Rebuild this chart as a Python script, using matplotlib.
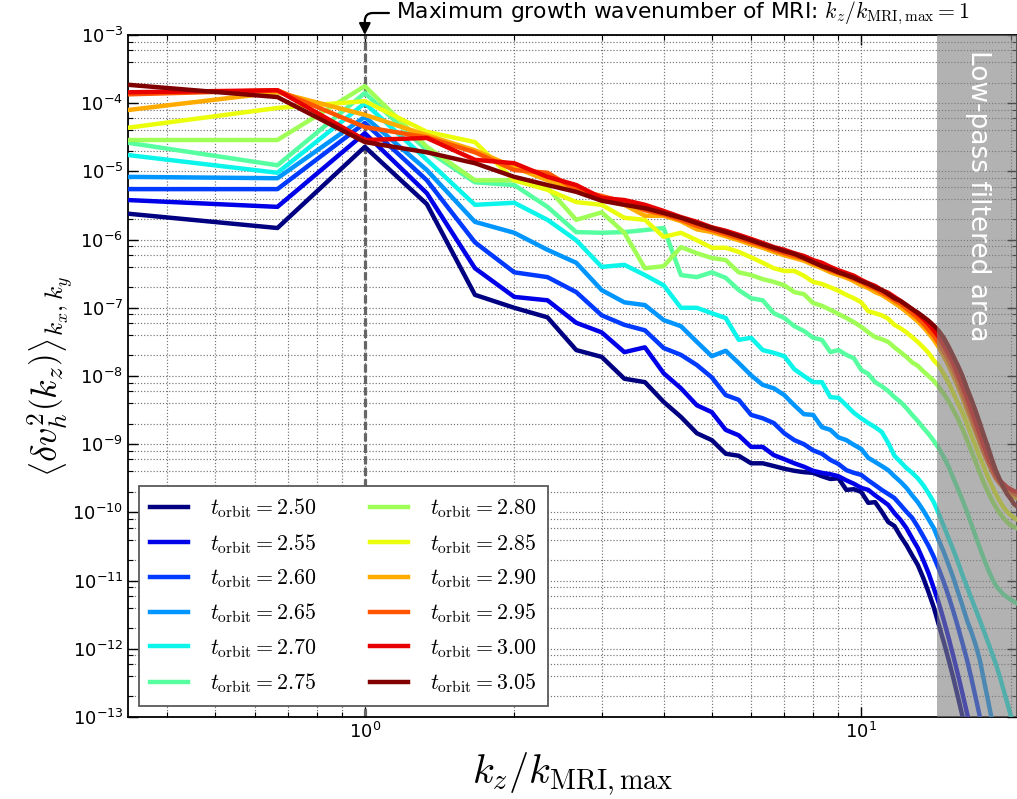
import numpy as np
import matplotlib
matplotlib.use("Agg")
import matplotlib.pyplot as plt
from matplotlib.ticker import LogLocator

plt.rcParams['mathtext.fontset'] = 'cm'
plt.rcParams['axes.unicode_minus'] = False
plt.rcParams['font.family'] = ['DejaVu Sans']

# k_z / k_MRI,max = n/3, n = 1..62
kz = np.arange(1, 63) / 3.0
times = [2.50, 2.55, 2.60, 2.65, 2.70, 2.75, 2.80, 2.85, 2.90, 2.95, 3.00, 3.05]

# log10 <dv_h^2(k_z)>
lg_250 = [-5.62, -5.83, -4.64, -5.48, -6.81, -7.00, -7.14, -7.62, -7.72, -8.04,
          -8.09, -8.38, -8.60, -8.84, -8.94, -9.14, -9.17, -9.28, -9.28, -9.32,
          -9.36, -9.39, -9.41, -9.42, -9.47, -9.51, -9.50, -9.67, -9.66, -9.70,
          -9.86, -9.85, -9.99, -10.14, -10.20, -10.35, -10.48, -10.63, -10.77, -10.96,
          -11.17, -11.39, -11.65, -11.90, -12.16, -12.43, -12.71, -12.99, -13.26, -13.55,
          -13.84, -14.13, -14.42, -14.71, -15.00, -15.29, -15.58, -15.87, -16.16, -16.45,
          -16.74, -17.03]
lg_255 = [-5.42, -5.52, -4.44, -5.32, -6.42, -6.84, -6.89, -7.22, -7.36, -7.65,
          -7.58, -7.96, -8.18, -8.43, -8.53, -8.79, -8.87, -9.04, -9.04, -9.16,
          -9.22, -9.28, -9.33, -9.39, -9.42, -9.44, -9.47, -9.53, -9.58, -9.64,
          -9.67, -9.75, -9.82, -9.89, -10.01, -10.11, -10.23, -10.38, -10.52, -10.70,
          -10.89, -11.11, -11.33, -11.58, -11.84, -12.11, -12.38, -12.66, -12.94, -13.22,
          -13.51, -13.81, -14.10, -14.39, -14.69, -14.98, -15.27, -15.57, -15.86, -16.15,
          -16.45, -16.74]
lg_260 = [-5.26, -5.26, -4.29, -5.13, -6.04, -6.48, -6.55, -6.77, -7.11, -7.25,
          -7.33, -7.59, -7.69, -7.84, -8.02, -8.28, -8.35, -8.57, -8.62, -8.69,
          -8.84, -8.94, -9.00, -9.09, -9.14, -9.23, -9.29, -9.38, -9.42, -9.45,
          -9.53, -9.60, -9.67, -9.73, -9.79, -9.89, -9.99, -10.08, -10.21, -10.35,
          -10.49, -10.65, -10.83, -11.02, -11.23, -11.45, -11.68, -11.92, -12.16, -12.43,
          -12.71, -12.99, -13.26, -13.56, -13.85, -14.15, -14.44, -14.73, -15.03, -15.32,
          -15.61, -15.90]
lg_265 = [-5.08, -5.10, -4.20, -4.98, -5.74, -5.90, -6.15, -6.34, -6.74, -6.92,
          -6.96, -7.18, -7.27, -7.50, -7.71, -7.63, -7.81, -7.99, -8.13, -8.18,
          -8.28, -8.43, -8.56, -8.57, -8.75, -8.79, -8.90, -8.94, -9.01, -9.07,
          -9.20, -9.26, -9.32, -9.38, -9.47, -9.55, -9.64, -9.75, -9.85, -9.97,
          -10.10, -10.23, -10.41, -10.58, -10.77, -10.96, -11.17, -11.37, -11.58, -11.75,
          -11.94, -12.16, -12.46, -12.75, -13.04, -13.34, -13.63, -13.92, -14.22, -14.51,
          -14.80, -15.10]
lg_270 = [-4.76, -5.02, -4.00, -4.83, -5.49, -5.46, -5.71, -6.01, -6.40, -6.37,
          -6.52, -6.67, -7.00, -7.00, -7.08, -7.15, -7.47, -7.44, -7.62, -7.66,
          -7.71, -7.90, -8.00, -8.09, -8.09, -8.31, -8.32, -8.43, -8.54, -8.62,
          -8.69, -8.75, -8.82, -8.98, -9.17, -9.26, -9.35, -9.42, -9.50, -9.60,
          -9.72, -9.85, -10.02, -10.20, -10.38, -10.55, -10.73, -10.92, -11.09, -11.26,
          -11.42, -11.58, -11.74, -11.90, -12.06, -12.22, -12.40, -12.59, -12.78, -12.97,
          -13.16, -13.35]
lg_275 = [-4.58, -4.91, -3.85, -4.69, -5.16, -5.20, -5.52, -5.89, -5.90, -5.89,
          -5.86, -5.83, -6.52, -6.55, -6.48, -6.56, -6.74, -6.86, -6.89, -7.08,
          -7.15, -7.27, -7.34, -7.44, -7.47, -7.65, -7.62, -7.69, -7.74, -7.91,
          -7.97, -8.09, -8.15, -8.22, -8.31, -8.38, -8.47, -8.57, -8.66, -8.76,
          -8.85, -8.95, -9.06, -9.19, -9.33, -9.50, -9.66, -9.82, -9.99, -10.17,
          -10.35, -10.52, -10.68, -10.83, -10.96, -11.07, -11.14, -11.20, -11.24, -11.28,
          -11.31, -11.34]
lg_280 = [-4.54, -4.54, -3.75, -4.64, -5.13, -5.13, -5.24, -5.71, -5.60, -5.90,
          -6.42, -6.39, -6.11, -6.20, -6.27, -6.30, -6.48, -6.52, -6.58, -6.62,
          -6.67, -6.77, -6.80, -6.93, -6.97, -7.03, -7.09, -7.15, -7.21, -7.28,
          -7.36, -7.43, -7.46, -7.50, -7.58, -7.65, -7.72, -7.80, -7.85, -7.93,
          -8.00, -8.07, -8.16, -8.26, -8.37, -8.50, -8.63, -8.78, -8.94, -9.10,
          -9.26, -9.42, -9.57, -9.70, -9.82, -9.92, -10.01, -10.08, -10.14, -10.19,
          -10.21, -10.24]
lg_285 = [-4.36, -4.07, -3.97, -4.42, -4.57, -5.13, -5.27, -5.45, -5.49, -5.68,
          -5.71, -5.96, -5.90, -6.01, -6.12, -6.12, -6.18, -6.26, -6.34, -6.42,
          -6.46, -6.46, -6.53, -6.62, -6.65, -6.70, -6.75, -6.81, -6.86, -6.92,
          -7.05, -7.08, -7.11, -7.16, -7.25, -7.30, -7.36, -7.43, -7.50, -7.58,
          -7.66, -7.77, -7.85, -7.97, -8.10, -8.25, -8.40, -8.54, -8.70, -8.87,
          -9.03, -9.19, -9.33, -9.48, -9.61, -9.73, -9.83, -9.92, -9.99, -10.04,
          -10.08, -10.11]
lg_290 = [-4.10, -3.84, -4.17, -4.47, -4.69, -4.94, -5.13, -5.27, -5.42, -5.49,
          -5.65, -5.65, -5.73, -5.85, -5.89, -5.95, -6.01, -6.07, -6.12, -6.18,
          -6.23, -6.27, -6.31, -6.37, -6.42, -6.48, -6.52, -6.56, -6.61, -6.67,
          -6.71, -6.77, -6.81, -6.87, -6.93, -6.99, -7.06, -7.13, -7.20, -7.28,
          -7.37, -7.47, -7.58, -7.71, -7.85, -8.00, -8.16, -8.32, -8.50, -8.66,
          -8.82, -8.98, -9.13, -9.26, -9.38, -9.48, -9.57, -9.64, -9.70, -9.75,
          -9.77, -9.80]
lg_295 = [-3.87, -3.81, -4.35, -4.50, -4.72, -4.98, -5.02, -5.27, -5.36, -5.45,
          -5.57, -5.63, -5.71, -5.80, -5.86, -5.92, -5.98, -6.04, -6.09, -6.15,
          -6.20, -6.24, -6.28, -6.34, -6.39, -6.45, -6.49, -6.53, -6.58, -6.62,
          -6.68, -6.72, -6.78, -6.83, -6.89, -6.94, -7.01, -7.08, -7.15, -7.23,
          -7.32, -7.41, -7.52, -7.64, -7.77, -7.91, -8.07, -8.25, -8.43, -8.60,
          -8.78, -8.95, -9.12, -9.26, -9.39, -9.50, -9.57, -9.63, -9.67, -9.70,
          -9.73, -9.75]
lg_300 = [-3.84, -3.81, -4.54, -4.51, -4.83, -4.88, -5.08, -5.20, -5.39, -5.42,
          -5.49, -5.58, -5.67, -5.74, -5.82, -5.87, -5.93, -5.99, -6.05, -6.11,
          -6.15, -6.20, -6.24, -6.30, -6.34, -6.40, -6.45, -6.49, -6.53, -6.59,
          -6.64, -6.68, -6.74, -6.78, -6.84, -6.90, -6.96, -7.02, -7.09, -7.16,
          -7.24, -7.33, -7.43, -7.55, -7.68, -7.82, -7.99, -8.15, -8.32, -8.50,
          -8.68, -8.85, -9.03, -9.19, -9.32, -9.44, -9.53, -9.58, -9.63, -9.66,
          -9.69, -9.70]
lg_305 = [-3.73, -3.91, -4.57, -4.72, -4.88, -5.08, -5.20, -5.30, -5.43, -5.49,
          -5.54, -5.61, -5.68, -5.76, -5.83, -5.89, -5.95, -6.01, -6.07, -6.12,
          -6.17, -6.21, -6.27, -6.33, -6.39, -6.43, -6.48, -6.52, -6.56, -6.61,
          -6.65, -6.70, -6.74, -6.80, -6.86, -6.90, -6.96, -7.02, -7.07, -7.13,
          -7.19, -7.26, -7.34, -7.44, -7.57, -7.71, -7.85, -8.00, -8.18, -8.34,
          -8.51, -8.69, -8.87, -9.04, -9.22, -9.38, -9.51, -9.63, -9.73, -9.80,
          -9.88, -9.92]

curves = [lg_250, lg_255, lg_260, lg_265, lg_270, lg_275,
          lg_280, lg_285, lg_290, lg_295, lg_300, lg_305]

filter_start = 14.2

fig = plt.figure(figsize=(10.17, 7.99), dpi=100)
ax = fig.add_axes([128/1017, 82/799, 889/1017, 682/799])

colors = plt.cm.jet(np.linspace(0, 1, len(times)))
for t, lg, c in zip(times, curves, colors):
    ax.plot(kz, 10.0**np.array(lg), color=c, lw=3.2,
            label=r'$t_{\rm orbit}=%.2f$' % t, zorder=3)

ax.set_xscale('log')
ax.set_yscale('log')
ax.set_xlim(1/3., 20.6)
ax.set_ylim(1e-13, 1e-3)
ax.yaxis.set_major_locator(LogLocator(base=10, numticks=20))
ax.yaxis.set_minor_locator(LogLocator(base=10, subs=(2, 4, 6, 8), numticks=20))

ax.grid(True, which='both', linestyle=':', color='0.45', lw=0.85, zorder=1)
ax.tick_params(which='both', direction='in', top=True, right=True, labelsize=13)
ax.tick_params(which='major', length=7, width=1)
ax.tick_params(which='minor', length=3.5, width=0.8)
for s in ax.spines.values():
    s.set_linewidth(1.3)

ax.axvline(1.0, color='0.4', lw=2.3, dashes=(2.6, 1.0), zorder=2)
ax.axvspan(filter_start, 100, color='0.5', alpha=0.6, lw=0, zorder=4)
ax.text(0.956, 0.765, 'Low-pass filtered area', transform=ax.transAxes,
        rotation=-90, color='white', fontsize=19, ha='center', va='center', zorder=5)

ax.annotate(r'Maximum growth wavenumber of MRI: $k_z/k_{\rm MRI,max}=1$',
            xy=(1.0, 1e-3), xycoords='data',
            xytext=(1.155, 1.0 + 22/682.), textcoords=('data', 'axes fraction'),
            fontsize=15.7, va='center', ha='left', annotation_clip=False,
            arrowprops=dict(arrowstyle='-|>', color='k', lw=1.6,
                            connectionstyle='angle,angleA=0,angleB=90,rad=8',
                            shrinkA=3, shrinkB=0, mutation_scale=17))

ax.set_xlabel(r'$k_z/k_{\rm MRI,max}$', fontsize=29, labelpad=6)
ax.set_ylabel(r'$\left\langle\delta v_h^2\left(k_z\right)\right\rangle_{k_x,k_y}$',
              fontsize=26, labelpad=-3)

leg = ax.legend(loc='lower left', ncol=2, fontsize=15.8, handlelength=1.75,
                handletextpad=1.0, columnspacing=2.4, labelspacing=0.53,
                borderpad=0.5, fancybox=False, framealpha=1.0, edgecolor='0.35')
leg.get_frame().set_linewidth(1.3)
leg.set_zorder(6)

fig.savefig('out.png', dpi=100)
